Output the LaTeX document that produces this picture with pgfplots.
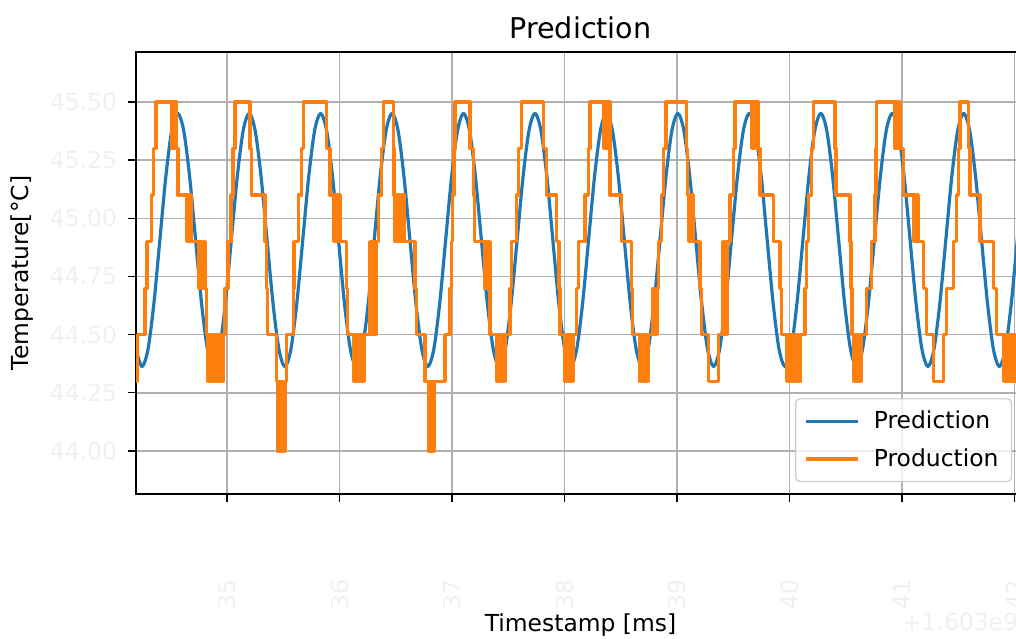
\documentclass[border=0pt]{standalone}
\usepackage{fontspec}
\setmainfont{DejaVu Sans}
\usepackage{pgfplots}
\pgfplotsset{compat=1.18}
\usetikzlibrary{calc}
\definecolor{mplblue}{RGB}{31,119,180}
\definecolor{mplorange}{RGB}{255,127,14}
\newcommand{\lblfont}{\fontsize{11.7}{14}\selectfont}
\begin{document}
\begin{tikzpicture}
\begin{axis}[
  name=ax,
  scale only axis,
  width=444.5pt, height=221pt,
  xmin=136, xmax=1025, ymin=43.815, ymax=45.715,
  xtick={227,339.5,452,564.5,677,789.5,902,1014.5},
  xticklabels={35,36,37,38,39,40,41,42},
  ytick={44,44.25,44.5,44.75,45,45.25,45.5},
  yticklabels={44.00,44.25,44.50,44.75,45.00,45.25,45.50},
  xtick pos=lower, ytick pos=left,
  tick align=outside,
  major tick length=4pt,
  tick style={black, line width=0.7pt},
  axis line style={line width=0.7pt},
  grid=major,
  grid style={color=black!31, line width=0.8pt},
  tick label style={font=\lblfont, text=black!6},
  xticklabel style={rotate=90, anchor=east},
  xticklabel shift=35.5pt,
  yticklabel shift=2pt,
  title={Prediction},
  title style={at={(axis description cs:0.5,1)}, anchor=center, yshift=6pt, font=\fontsize{14.3}{17}\selectfont},
  xlabel={Timestamp [ms]},
  ylabel={Temperature[°C]},
  xlabel style={at={(axis description cs:0.5,-0.2964)}, anchor=center, font=\lblfont},
  ylabel style={at={(axis description cs:-0.1282,0.5)}, anchor=center, font=\lblfont},
  legend style={at={(axis description cs:0.9854,0.0271)}, anchor=south east,
    draw=black!20, line width=0.6pt, rounded corners=2pt, fill=white, fill opacity=0.8, text opacity=1,
    font=\lblfont, inner xsep=4.5pt, inner ysep=4pt, row sep=4.5pt, column sep=5pt},
  legend cell align=left,
  legend image code/.code={\draw[#1] (0pt,0pt) -- (26pt,0pt);},
]
\addplot[mplblue, line width=1.6pt, smooth, line join=round] table {
136.05 44.436
142.00 44.363
147.95 44.436
153.91 44.635
159.86 44.907
165.82 45.179
171.77 45.378
177.73 45.451
183.68 45.378
189.63 45.179
195.59 44.907
201.54 44.635
207.50 44.436
213.45 44.363
219.40 44.436
225.36 44.635
231.31 44.907
237.27 45.179
243.22 45.378
249.18 45.451
255.13 45.378
261.08 45.179
267.04 44.907
272.99 44.635
278.95 44.436
284.90 44.363
290.85 44.436
296.81 44.635
302.76 44.907
308.72 45.179
314.67 45.378
320.63 45.451
326.58 45.378
332.53 45.179
338.49 44.907
344.44 44.635
350.40 44.436
356.35 44.363
362.30 44.436
368.26 44.635
374.21 44.907
380.17 45.179
386.12 45.378
392.08 45.451
398.03 45.378
403.98 45.179
409.94 44.907
415.89 44.635
421.85 44.436
427.80 44.363
433.75 44.436
439.71 44.635
445.66 44.907
451.62 45.179
457.57 45.378
463.53 45.451
469.48 45.378
475.43 45.179
481.39 44.907
487.34 44.635
493.30 44.436
499.25 44.363
505.20 44.436
511.16 44.635
517.11 44.907
523.07 45.179
529.02 45.378
534.98 45.451
540.93 45.378
546.88 45.179
552.84 44.907
558.79 44.635
564.75 44.436
570.70 44.363
576.65 44.436
582.61 44.635
588.56 44.907
594.52 45.179
600.47 45.378
606.43 45.451
612.38 45.378
618.33 45.179
624.29 44.907
630.24 44.635
636.20 44.436
642.15 44.363
648.10 44.436
654.06 44.635
660.01 44.907
665.97 45.179
671.92 45.378
677.88 45.451
683.83 45.378
689.78 45.179
695.74 44.907
701.69 44.635
707.65 44.436
713.60 44.363
719.55 44.436
725.51 44.635
731.46 44.907
737.42 45.179
743.37 45.378
749.33 45.451
755.28 45.378
761.23 45.179
767.19 44.907
773.14 44.635
779.10 44.436
785.05 44.363
791.00 44.436
796.96 44.635
802.91 44.907
808.87 45.179
814.82 45.378
820.78 45.451
826.73 45.378
832.68 45.179
838.64 44.907
844.59 44.635
850.55 44.436
856.50 44.363
862.45 44.436
868.41 44.635
874.36 44.907
880.32 45.179
886.27 45.378
892.23 45.451
898.18 45.378
904.13 45.179
910.09 44.907
916.04 44.635
922.00 44.436
927.95 44.363
933.90 44.436
939.86 44.635
945.81 44.907
951.77 45.179
957.72 45.378
963.68 45.451
969.63 45.378
975.58 45.179
981.54 44.907
987.49 44.635
993.45 44.436
999.40 44.363
1005.35 44.436
1011.31 44.635
1017.26 44.907
1023.22 45.179
1029.17 45.378
};
\addlegendentry{Prediction}
\addplot[mplorange, line width=1.6pt, const plot, line join=round] coordinates {
(136,44.3)(137.5,44.5)(145,44.7)(147,44.9)(151.7,45.1)(153.3,45.3)(156,45.5)
(171.7,45.3)(172.9,45.5)(174.1,45.3)(175.3,45.5)(176.5,45.3)
(178,45.1)
(186.7,44.9)(187.9,45.1)(189.1,44.9)(190.3,45.1)(191.5,44.9)
(198.3,44.7)(199.5,44.9)(200.7,44.7)(201.9,44.9)(203.1,44.7)(204.3,44.9)(205,44.7)
(206.7,44.5)
(207.5,44.3)(208.7,44.5)(209.9,44.3)(211.1,44.5)(212.3,44.3)(213.5,44.5)(214.7,44.3)(215.9,44.5)(217.1,44.3)(218.3,44.5)(219.5,44.3)(220.7,44.5)(221.9,44.3)(223.1,44.5)
(225,44.7)(228,44.9)(231,45.1)(233,45.3)(235,45.5)
(250,45.3)(251.5,45.1)(265,44.9)(266.7,44.7)(267.5,44.5)(276.7,44.3)
(277.3,44.0)(278.5,44.3)(279.7,44.0)(280.9,44.3)(282.1,44.0)(283.3,44.3)(284.5,44.0)(285.3,44.3)
(286.7,44.5)(293.3,44.7)(294,44.9)(298.3,45.1)(301.7,45.3)(303.3,45.5)
(326.7,45.3)(330,45.1)
(333.3,44.9)(334.5,45.1)(335.7,44.9)(336.9,45.1)(338.1,44.9)(339.3,45.1)(340,44.9)
(346.7,44.7)(347.5,44.5)
(353.3,44.3)(354.5,44.5)(355.7,44.3)(356.9,44.5)(358.1,44.3)(359.3,44.5)(360.5,44.3)(361.7,44.5)(362.9,44.3)(364.1,44.5)
(370,44.9)(371.2,44.5)(372.4,44.9)(373.6,44.5)(374.8,44.9)(376,44.5)
(376.7,44.9)(378.3,45.1)(381.7,45.3)(383.3,45.5)
(393.3,45.3)(394,45.1)
(395,44.9)(396.2,45.1)(397.4,44.9)(398.6,45.1)(399.8,44.9)(401,45.1)(402.2,44.9)(403.4,45.1)(404.6,44.9)
(415,44.7)(416.7,44.5)(425,44.3)
(428.3,44.0)(429.5,44.3)(430.7,44.0)(431.9,44.3)(433.1,44.0)(434.3,44.3)
(445,44.5)(450,44.7)(451.5,44.9)(452.5,45.1)(454,45.3)(455,45.5)
(470,45.3)(473.3,45.1)(474.5,44.9)
(485,44.7)(486.2,44.9)(487.4,44.7)(488.6,44.9)
(490,44.5)
(496.7,44.3)(497.9,44.5)(499.1,44.3)(500.3,44.5)(501.5,44.3)(502.7,44.5)(503.9,44.3)(505,44.5)
(510,44.7)(511.7,44.9)(516.7,45.1)(518.5,45.3)(521.7,45.5)
(543.3,45.3)(546.7,45.1)(556.7,44.9)(559,44.7)(560,44.5)
(565,44.3)(566.2,44.5)(567.4,44.3)(568.6,44.5)(569.8,44.3)(571,44.5)(572.2,44.3)(573.3,44.5)
(576.7,44.7)(578.3,44.9)(585,45.1)(588.3,45.3)(590,45.5)
(603.3,45.3)(604.5,45.5)(605.7,45.3)(606.9,45.5)(608.1,45.3)(609.3,45.5)
(610,45.1)(621.7,44.9)(631.7,44.7)(632.5,44.5)
(640,44.3)(641.2,44.5)(642.4,44.3)(643.6,44.5)(644.8,44.3)(646,44.5)(647.2,44.3)(648.3,44.5)
(653,44.7)(654.2,44.5)(655.4,44.7)(656.6,44.5)(657.8,44.7)
(658.3,44.9)(661.7,45.1)(663.3,45.3)(666,45.5)
(686.7,45.3)(687.5,45.1)
(688.5,44.9)(689.7,45.1)(690.9,44.9)(692.1,45.1)(693.3,44.9)
(700,44.7)(701.7,44.5)(708.3,44.3)(718.3,44.5)
(723,44.9)(724.2,44.5)(725.4,44.9)(726.6,44.5)(727.2,44.9)
(730,45.1)(733.3,45.3)(735,45.5)
(751.7,45.3)(752.9,45.5)(754.1,45.3)(755.3,45.5)(756.5,45.3)(757.7,45.5)
(758.3,45.3)(760,45.1)(773.3,44.9)(780,44.7)(781.7,44.5)
(786.7,44.3)(787.9,44.5)(789.1,44.3)(790.3,44.5)(791.5,44.3)(792.7,44.5)(793.9,44.3)(795.1,44.5)(796.3,44.3)(797.5,44.5)(798.7,44.3)(799.9,44.5)
(805,44.7)(806.7,44.9)(808.3,45.1)(811.7,45.3)(813.3,45.5)
(835,45.3)(836,45.1)(850,44.9)(851,44.7)(852,44.5)
(853.3,44.3)(854.5,44.5)(855.7,44.3)(856.9,44.5)(858.1,44.3)(859.3,44.5)(860.5,44.3)(861.7,44.5)
(866.7,44.7)(871.7,44.9)(875,45.1)(876,45.3)(876.7,45.5)
(895,45.3)(896.2,45.5)(897.4,45.3)(898.6,45.5)
(900,45.3)(903.3,45.1)
(913.3,44.9)(914.5,45.1)(915.7,44.9)(916.9,45.1)
(918.3,44.9)(923.3,44.7)(926.7,44.5)(933.3,44.3)(943.3,44.5)(946.7,44.7)(953.3,44.9)(956.7,45.1)(958.3,45.3)(960,45.5)
(968.3,45.3)(970,45.1)(980,44.9)(993.3,44.7)(996.7,44.5)
(1003.3,44.3)(1004.5,44.5)(1005.7,44.3)(1006.9,44.5)(1008.1,44.3)(1009.3,44.5)(1010.5,44.3)(1011.7,44.5)(1012.9,44.3)(1014.1,44.5)(1015.3,44.3)(1016.5,44.5)(1017.7,44.3)(1018.9,44.5)(1020.1,44.3)(1021.3,44.5)(1022.5,44.3)(1023.7,44.5)(1025,44.5)
};
\addlegendentry{Production}
\end{axis}
\node[anchor=east, font=\lblfont, text=black!6] at ($(ax.south east)+(0,-64pt)$) {+1.603e9};
\pgfresetboundingbox
\useasboundingbox ($(ax.south west)+(-68pt,-72.5pt)$) rectangle ($(ax.north east)+(-4.5pt,26pt)$);
\end{tikzpicture}
\end{document}
